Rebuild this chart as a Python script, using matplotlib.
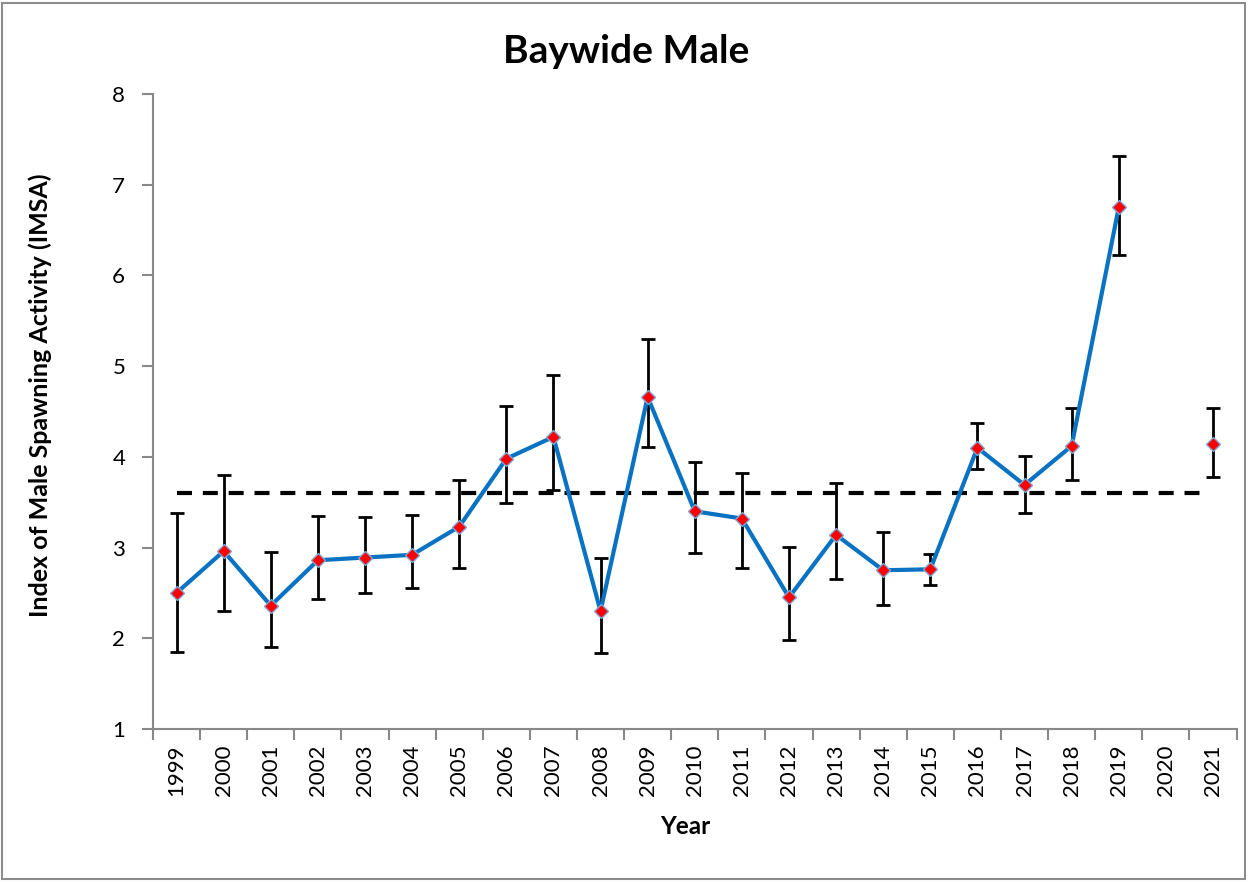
import numpy as np
import matplotlib
matplotlib.use("Agg")
import matplotlib.pyplot as plt

years = ["1999", "2000", "2001", "2002", "2003", "2004", "2005", "2006", "2007", "2008",
         "2009", "2010", "2011", "2012", "2013", "2014", "2015", "2016", "2017", "2018",
         "2019", "2020", "2021"]
imsa = [2.50, 2.96, 2.36, 2.86, 2.89, 2.92, 3.23, 3.98, 4.22, 2.30,
        4.66, 3.40, 3.32, 2.45, 3.14, 2.75, 2.76, 4.10, 3.69, 4.12,
        6.75, np.nan, 4.14]
upper = [3.38, 3.80, 2.95, 3.35, 3.34, 3.36, 3.75, 4.56, 4.90, 2.89,
         5.30, 3.94, 3.82, 3.01, 3.71, 3.17, 2.93, 4.37, 4.01, 4.54,
         7.32, np.nan, 4.54]
lower = [1.85, 2.30, 1.90, 2.43, 2.50, 2.55, 2.78, 3.49, 3.63, 1.84,
         4.11, 2.94, 2.78, 1.98, 2.65, 2.37, 2.59, 3.87, 3.38, 3.75,
         6.23, np.nan, 3.78]
mean_line = 3.60

plt.rcParams['font.family'] = ['Lato', 'DejaVu Sans']

fig = plt.figure(figsize=(12.49, 8.82), dpi=100)
fig.patch.set_facecolor('white')
border = plt.Rectangle((0.002, 0.003), 0.995, 0.994, transform=fig.transFigure,
                       fill=False, edgecolor='#8c8c8c', linewidth=1.5)
fig.patches.append(border)

ax = fig.add_axes([0.1225, 0.1735, 0.8675, 0.7199])

x = np.arange(len(years))
y = np.array(imsa)
yerr = np.array([y - np.array(lower), np.array(upper) - y])

ax.plot([x[0], x[-1] - 0.2], [mean_line, mean_line], color='black', lw=3,
        dashes=(3.6, 2.6), zorder=2)
ax.errorbar(x, y, yerr=yerr, fmt='none', ecolor='black', elinewidth=2,
            capsize=5, capthick=2, zorder=3)
ax.plot(x, y, color='#0a72c2', lw=3, zorder=4)
ax.plot(x, y, linestyle='none', marker='D', markersize=7, markerfacecolor='#ff0000',
        markeredgecolor='#7aa6d8', markeredgewidth=1, zorder=5)

ax.set_xlim(-0.5, len(years) - 0.5)
ax.set_ylim(1, 8)
ax.set_yticks(range(1, 9))
ax.set_xticks(x)
ax.set_xticklabels(years, rotation=90)
ax.set_xticks(np.arange(-0.5, len(years), 1), minor=True)
ax.tick_params(axis='x', which='major', length=0, pad=11, labelsize=16)
ax.tick_params(axis='x', which='minor', length=8, width=1.5, color='#888888', direction='out')
ax.tick_params(axis='y', length=8, width=1.5, color='#888888', direction='out', labelsize=16, pad=12)

for s in ['top', 'right']:
    ax.spines[s].set_visible(False)
for s in ['left', 'bottom']:
    ax.spines[s].set_color('#888888')
    ax.spines[s].set_linewidth(1.5)

fig.text(0.501, 0.9286, 'Baywide Male', fontsize=28, fontweight='bold',
         ha='center', va='baseline')
fig.text(0.549, 0.0544, 'Year', fontsize=17.5, fontweight='bold',
         ha='center', va='baseline')
fig.text(0.032, 0.552, 'Index of Male Spawning Activity (IMSA)', fontsize=18,
         fontweight='bold', rotation=90, ha='center', va='center')

fig.savefig('out.png', dpi=100, facecolor='white')
